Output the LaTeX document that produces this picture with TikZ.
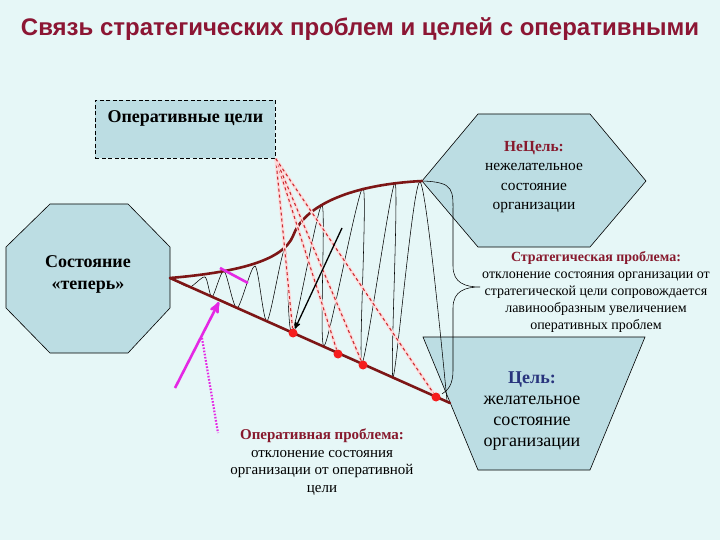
\documentclass[tikz,border=0pt]{standalone}
\usepackage{fontspec}
\setmainfont{Liberation Serif}
\newfontfamily\headfont{Liberation Sans}
\usepackage{tikz}
\usetikzlibrary{arrows,positioning}

\definecolor{bgcyan}{RGB}{230,247,247}
\definecolor{panefill}{RGB}{188,221,227}
\definecolor{headred}{RGB}{140,22,52}
\definecolor{labelred}{RGB}{135,25,45}
\definecolor{curvered}{RGB}{125,22,22}
\definecolor{dotred}{RGB}{245,30,30}
\definecolor{guidered}{RGB}{200,45,50}
\definecolor{goalblue}{RGB}{40,52,125}
\definecolor{hotpink}{RGB}{228,40,228}

\tikzset{
  heading/.style={font=\headfont\bfseries\fontsize{24}{28}\selectfont, text=headred},
  pane/.style={draw=black, fill=panefill, line width=0.6pt},
  dashbox/.style={draw=black, fill=panefill, dash pattern=on 4pt off 2.5pt, line width=0.8pt},
  caption/.style={align=center, inner sep=0pt},
  curve/.style={draw=curvered, line width=2.6pt, line cap=round},
  wave/.style={draw=black, line width=0.55pt},
  guide/.style={draw=guidered, dashed, line width=1.1pt,
    preaction={draw=pink!60, solid, line width=3pt}},
  reddot/.style={circle, fill=dotred, inner sep=0pt, minimum size=9pt},
  pinkline/.style={draw=hotpink, line width=2.6pt},
}

\begin{document}
\begin{tikzpicture}[x=1pt,y=-1pt,>=stealth']
  \fill[bgcyan] (0,0) rectangle (720,540);
  \useasboundingbox (0,0) rectangle (720,540);

  \node[heading] (title) at (360,29) {Связь стратегических проблем и целей с оперативными};

  % shapes
  \draw[pane] (50,204) -- (128,204) -- (170,247) -- (170,308) -- (128,353)
              -- (50,353) -- (6,308) -- (6,247) -- cycle;
  \draw[pane] (478,114) -- (590,114) -- (646,181) -- (590,247) -- (478,247)
              -- (422,181) -- cycle;
  \draw[pane] (423,337) -- (645,337) -- (590,470) -- (478,470) -- cycle;

  \node[dashbox, anchor=north west, minimum width=180, minimum height=58] (opgoals) at (95,100) {};
  \node[caption, font=\bfseries\fontsize{18}{20}\selectfont] (opgoalstext) [below=10pt of opgoals.north] {Оперативные цели};

  \node[caption, font=\bfseries\fontsize{18}{22}\selectfont] (now) at (88,274) {Состояние\\«теперь»};
  \node[caption, font=\fontsize{15.4}{19.3}\selectfont] (notgoal) at (534,177)
    {\textcolor{labelred}{\textbf{НеЦель:}}\\нежелательное\\состояние\\организации};
  \node[caption, font=\fontsize{14}{16.8}\selectfont] (stratprob) at (596,292)
    {\textcolor{labelred}{\textbf{Стратегическая проблема:}}\\отклонение состояния организации от\\стратегической цели сопровождается\\лавинообразным увеличением\\оперативных проблем};
  \node[caption, font=\fontsize{18}{21}\selectfont] (goal) at (532,411)
    {\textcolor{goalblue}{\textbf{Цель:}}\\желательное\\состояние\\организации};
  \node[caption, font=\fontsize{15}{17.6}\selectfont] (opprob) at (322,462)
    {\textcolor{labelred}{\textbf{Оперативная проблема:}}\\отклонение состояния\\организации от оперативной\\цели};

  % key points
  \coordinate (apex) at (170,278);
  \coordinate (foot) at (450,403);
  \coordinate (crest) at (422,181);

  % wave
  \draw[wave] plot[smooth, tension=0.45] coordinates {
    (178,282) (190,287) (205,277) (212,297) (224,271) (237,308) (255,266)
    (267,321) (285,249) (292,332) (322,205) (324,346) (363,188) (362,363)
    (395,183) (393,377) (420,182) (447,401)};

  % brace
  \draw[wave] (crest) .. controls (455,182) and (453,190) .. (453,215) -- (453,266)
    .. controls (453,283) and (465,287) .. (480,287)
    .. controls (465,287) and (453,291) .. (453,308) -- (453,370)
    .. controls (453,385) and (448,390) .. (442,394);

  % bounds
  \draw[curve] (apex) -- (foot);
  \draw[curve] (apex) .. controls (240,272) and (283,260) .. (293,236)
                      .. controls (303,208) and (345,185) .. (crest);

  % dots and guides
  \node[reddot] (d1) at (293,333) {};
  \node[reddot] (d2) at (338,354) {};
  \node[reddot] (d3) at (363,365) {};
  \node[reddot] (d4) at (436,397) {};
  \foreach \d in {d1,d2,d3,d4}
    \draw[guide] (opgoals.south east) -- (\d);

  % arrows
  \coordinate (ktail) at (342,228);
  \draw[->, line width=1.3pt] (ktail) -- (d1);

  \coordinate (barA) at (220,268);
  \coordinate (barB) at (248,283);
  \draw[pinkline] (barA) -- (barB);
  \coordinate (ptail) at (175,388);
  \coordinate (ptip) at (219,302);
  \draw[pinkline, ->] (ptail) -- (ptip);
  \coordinate (dotA) at (202,338);
  \coordinate (dotB) at (218,433);
  \draw[pinkline, line width=2.2pt, dash pattern=on 1.6pt off 1.6pt] (dotA) -- (dotB);
\end{tikzpicture}
\end{document}
